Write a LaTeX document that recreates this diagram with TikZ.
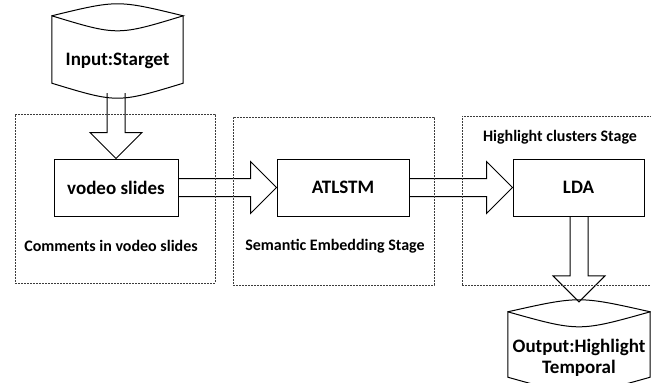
\documentclass[tikz,border=0pt]{standalone}
\usepackage{fontspec}
\setmainfont{Carlito}
\usepackage{xcolor}
\definecolor{stagegray}{RGB}{60,60,60}
\usetikzlibrary{calc}

% lens top, curved bottom; #2 = gap between bottom and node south
\newcommand{\datastore}[2]{%
  \draw[line width=1pt] (#1.north west) .. controls ($(#1.north)+(0,-16)$) .. (#1.north east)
    .. controls ($(#1.north)+(0,20)$) .. (#1.north west)
    -- ($(#1.south west)+(0,-#2-10)$) .. controls ($(#1.south)+(0,-#2+10)$) .. ($(#1.south east)+(0,-#2-10)$)
    -- (#1.north east);
}
\newcommand{\arrowright}[2]{%
  \draw[blockarrow] ($(#1.east)+(0,-9)$) -- ($(#2.west)+(-26,-9)$) -- ($(#2.west)+(-26,-26)$)
    -- (#2.west) -- ($(#2.west)+(-26,26)$) -- ($(#2.west)+(-26,9)$) -- ($(#1.east)+(0,9)$);
}
\newcommand{\arrowdown}[2]{%
  \draw[blockarrow] ($(#1)+(-9,0)$) -- ($(#2)+(-9,-26)$) -- ($(#2)+(-26,-26)$)
    -- (#2) -- ($(#2)+(26,-26)$) -- ($(#2)+(9,-26)$) -- ($(#1)+(9,0)$);
}

\begin{document}
\begin{tikzpicture}[x=1pt, y=-1pt,
    every node/.style={font=\bfseries},
    procbox/.style={draw, line width=1pt, inner sep=0pt, font=\fontsize{19}{22}\selectfont\bfseries},
    storebox/.style={inner sep=0pt, align=center, font=\fontsize{19}{21}\selectfont\bfseries},
    stage/.style={draw=stagegray, line width=0.9pt, dash pattern=on 2pt off 1pt, inner sep=0pt},
    stagelabel/.style={font=\fontsize{16}{19}\selectfont\bfseries},
    blockarrow/.style={line width=1pt}]
  \useasboundingbox (0,0) rectangle (651,383);

  % stores
  \node[storebox, minimum width=131, minimum height=89] (inp) at (117.5,60.5) {Input:Starget};
  \node[storebox, minimum width=142, minimum height=92] (outp) at (579,358) {Output:Highlight\\Temporal};
  \datastore{inp}{12}
  \datastore{outp}{17}

  % process boxes
  \node[procbox, minimum width=124, minimum height=57] (vs) at (116,187.5) {vodeo slides};
  \node[procbox, minimum width=132, minimum height=57] (lstm) at (343,187.5) {ATLSTM};
  \node[procbox, minimum width=131, minimum height=57] (lda) at (578.5,187.5) {LDA};

  % arrows
  \coordinate (inbot) at ($(vs.north |- inp.south)+(0,-12)$);
  \coordinate (outtop) at ($(outp.north)+(0,-10)$);
  \coordinate (ldabot) at (outtop |- lda.south);
  \arrowdown{inbot}{vs.north}
  \arrowright{vs}{lstm}
  \arrowright{lstm}{lda}
  \arrowdown{ldabot}{outtop}

  % stages
  \node[stage, minimum width=200, minimum height=169] (st1) at (115,198.5) {};
  \node[stage, minimum width=201, minimum height=168] (st2) at (333.5,201) {};
  \node[stage, minimum width=198, minimum height=169] (st3) at (561,200.5) {};
  \node[stagelabel] (lab1) at (111,246) {Comments in vodeo slides};
  \node[stagelabel] (lab2) at (335,246) {Semantic Embedding Stage};
  \node[stagelabel] (lab3) at (560,137) {Highlight clusters Stage};
\end{tikzpicture}
\end{document}
